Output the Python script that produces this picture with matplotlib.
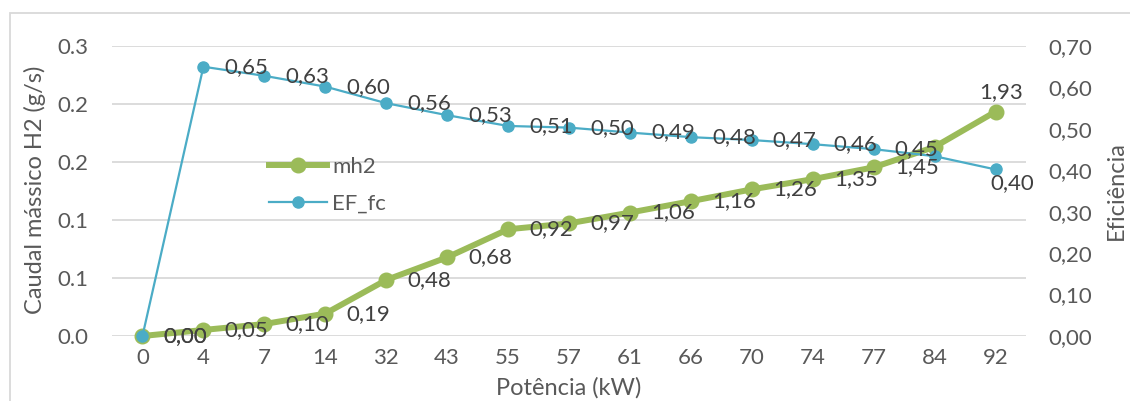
import matplotlib.pyplot as plt
from matplotlib.patches import Rectangle

plt.rcParams['font.family'] = ['Lato', 'DejaVu Sans']

potencia = ['0', '4', '7', '14', '32', '43', '55', '57', '61', '66', '70', '74', '77', '84', '92']
mh2 = [0.0, 0.0052, 0.0103, 0.0193, 0.0483, 0.0678, 0.0920, 0.0971, 0.1064,
       0.1162, 0.1264, 0.1352, 0.1454, 0.1630, 0.1934]
ef_fc = [0.00, 0.65, 0.628, 0.602, 0.562, 0.533, 0.507, 0.503, 0.491,
         0.480, 0.473, 0.463, 0.451, 0.434, 0.402]

verde = '#9BBB59'
azul = '#4BACC6'
cinza = '#595959'
escuro = '#404040'
grelha = '#D9D9D9'
fs = 16

fig = plt.figure(figsize=(11.3, 4.01), dpi=100)
W, H = 1130, 401

# moldura do grafico
fig.patches.append(Rectangle((10 / W, -0.1), 1.2, 1.1 - 13 / H, transform=fig.transFigure,
                             fill=False, edgecolor=grelha, linewidth=1.3))

ax = fig.add_axes([112 / W, 65 / H, 914 / W, 290 / H])
ax2 = ax.twinx()

x = list(range(len(potencia)))

l1, = ax.plot(x, mh2, color=verde, linewidth=4.3, marker='o', markersize=10.5,
              label='mh2', zorder=3, clip_on=False)
l2, = ax2.plot(x, ef_fc, color=azul, linewidth=1.6, marker='o', markersize=8,
               label='EF_fc', zorder=3, clip_on=False)

ax.set_xlim(-0.5, len(potencia) - 0.5)
ax.set_ylim(0, 0.25)
ax2.set_ylim(0, 0.70)

ax.set_yticks([0, 0.05, 0.10, 0.15, 0.20, 0.25])
ax.set_yticklabels(['{:.1f}'.format(v + 1e-9) for v in ax.get_yticks()])
ax2.set_yticks([i / 10 for i in range(8)])
ax2.set_yticklabels(['{:.2f}'.format(v).replace('.', ',') for v in ax2.get_yticks()])
ax.set_xticks(x)
ax.set_xticklabels(potencia)

ax.grid(axis='y', color=grelha, linewidth=1.3)
ax.set_axisbelow(True)
for a in (ax, ax2):
    for s in a.spines.values():
        s.set_visible(False)
    a.tick_params(length=0, labelsize=fs, labelcolor=cinza)
ax.tick_params(axis='y', pad=17)
ax2.tick_params(axis='y', pad=16)
ax.tick_params(axis='x', pad=9)

ax.set_ylabel('Caudal mássico H2 (g/s)', fontsize=17, color=cinza, va='center')
ax.yaxis.set_label_coords(-77 / 914, 146 / 290)
ax2.set_ylabel('Eficiência', fontsize=17, color=cinza, va='center', rotation=90)
ax2.yaxis.set_label_coords(1004 / 914, 145 / 290)
ax.set_xlabel('Potência (kW)', fontsize=17, color=cinza, va='center')
ax.xaxis.set_label_coords(457 / 914, -52 / 290)

# rotulos de dados (a direita de cada ponto)
ultimo = len(x) - 1
for i in x:
    if i == 13:
        continue
    if i == ultimo:
        off_v, off_a = (6, 20), (17, -14)
    else:
        off_v, off_a = (43, 0), (43, 0)
    ax2.annotate('{:.2f}'.format(mh2[i] * 10).replace('.', ','), (i, mh2[i]),
                 xycoords=ax.transData, xytext=off_v, textcoords='offset pixels',
                 ha='center', va='center', fontsize=fs, color=escuro)
    ax2.annotate('{:.2f}'.format(ef_fc[i]).replace('.', ','), (i, ef_fc[i]),
                 xytext=off_a, textcoords='offset pixels',
                 ha='center', va='center', fontsize=fs, color=escuro)

ax2.legend(handles=[l1, l2], loc='upper left', bbox_to_anchor=(258 / W, 1 - 146 / H),
           bbox_transform=fig.transFigure, frameon=False, fontsize=fs,
           handlelength=2.6, handletextpad=0.25, labelspacing=0.75, borderpad=0,
           labelcolor=cinza)

fig.savefig('out.png', dpi=100)
